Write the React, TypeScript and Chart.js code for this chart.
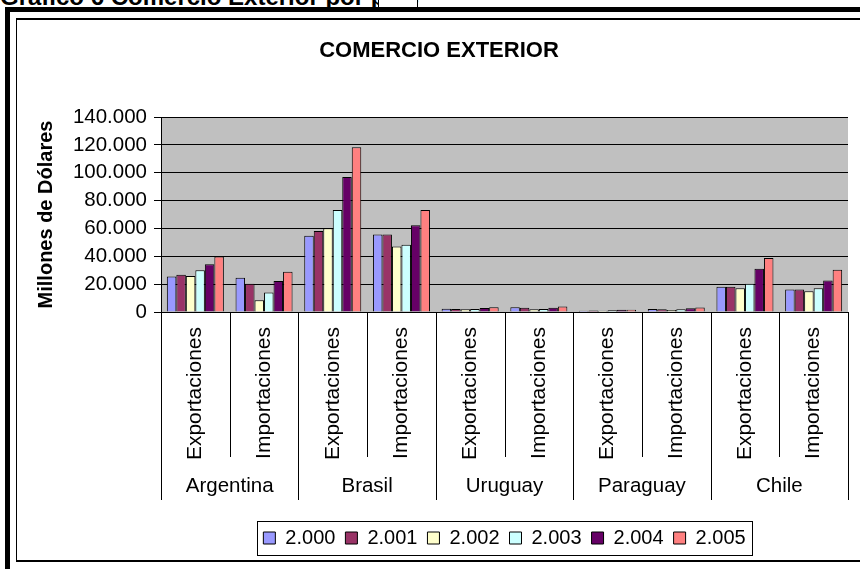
import React, { useEffect, useRef } from 'react';
import { Chart, registerables } from 'chart.js';

Chart.register(...registerables);

const FONT = "'Liberation Sans', Arial, Helvetica, sans-serif";

const heading = 'Gráfico 6 Comercio Exterior por país';
const chartTitle = 'COMERCIO EXTERIOR';
const yAxisTitle = 'Millones de Dólares';

const countries = ['Argentina', 'Brasil', 'Uruguay', 'Paraguay', 'Chile'];
const flows = ['Exportaciones', 'Importaciones'];
const yearLabels = ['2.000', '2.001', '2.002', '2.003', '2.004', '2.005'];
const yearColors = ['#9999FF', '#993366', '#FFFFCC', '#CCFFFF', '#660066', '#FF8080'];

// order: Arg Exp, Arg Imp, Bra Exp, Bra Imp, Uru Exp, Uru Imp, Par Exp, Par Imp, Chi Exp, Chi Imp
const values2000 = [25500, 24600, 54700, 55700, 2300, 3500, 900, 2200, 18100, 16100];
const values2001 = [26700, 20200, 58100, 55700, 2100, 3100, 1000, 2000, 18100, 16100];
const values2002 = [25800, 8400, 60200, 47000, 1900, 1900, 950, 1500, 17100, 14900];
const values2003 = [29900, 14000, 73200, 48200, 2200, 2200, 1200, 1900, 20200, 17100];
const values2004 = [34200, 22200, 96900, 62200, 2900, 3100, 1600, 2700, 31100, 22700];
const values2005 = [39800, 28900, 118300, 73200, 3400, 3900, 1700, 3200, 38800, 30400];

const yMin = 0;
const yMax = 140000;
const yStep = 20000;

const seriesValues = [values2000, values2001, values2002, values2003, values2004, values2005];
const categoryLabels = countries.flatMap(() => flows);

const fmt = (v: number) => String(Math.round(v)).replace(/\B(?=(\d{3})+(?!\d))/g, '.');

const plotBackground = {
  id: 'plotBackground',
  beforeDraw(chart: any) {
    const { ctx, chartArea } = chart;
    ctx.save();
    ctx.fillStyle = '#C0C0C0';
    ctx.fillRect(chartArea.left, chartArea.top, chartArea.right - chartArea.left, chartArea.bottom - chartArea.top);
    ctx.restore();
  },
};

const groupAxis = {
  id: 'groupAxis',
  afterDraw(chart: any) {
    const { ctx, chartArea } = chart;
    const xs = chart.scales.x;
    const n = categoryLabels.length;
    ctx.save();
    ctx.strokeStyle = '#000';
    ctx.lineWidth = 1;
    for (let j = 0; j <= n; j++) {
      let x;
      if (j === 0) x = chartArea.left;
      else if (j === n) x = chartArea.right;
      else x = (xs.getPixelForValue(j - 1) + xs.getPixelForValue(j)) / 2;
      x = Math.round(x) + 0.5;
      const yEnd = j % 2 === 0 ? 500 : 457;
      ctx.beginPath();
      ctx.moveTo(x, chartArea.bottom);
      ctx.lineTo(x, yEnd);
      ctx.stroke();
    }
    ctx.fillStyle = '#000';
    ctx.font = `20.5px ${FONT}`;
    ctx.textAlign = 'center';
    ctx.textBaseline = 'middle';
    countries.forEach((c, i) => {
      const cx = (xs.getPixelForValue(2 * i) + xs.getPixelForValue(2 * i + 1)) / 2;
      ctx.fillText(c, cx, 486);
    });
    ctx.restore();
  },
};

const legendBox = {
  id: 'legendBox',
  afterDraw(chart: any) {
    const lg = chart.legend;
    if (!lg || !lg.legendHitBoxes || !lg.legendHitBoxes.length) return;
    const hb = lg.legendHitBoxes;
    const first = hb[0];
    const last = hb[hb.length - 1];
    const left = Math.round(first.left - 6) + 0.5;
    const right = Math.round(last.left + last.width + 6) + 0.5;
    const top = Math.round(first.top - 7) + 0.5;
    const bottom = Math.round(first.top + first.height + 7) + 0.5;
    const { ctx } = chart;
    ctx.save();
    ctx.strokeStyle = '#000';
    ctx.lineWidth = 1;
    ctx.strokeRect(left, top, right - left, bottom - top);
    ctx.restore();
  },
};

export default function App() {
  const canvasRef = useRef<HTMLCanvasElement | null>(null);

  useEffect(() => {
    document.body.style.margin = '0';
    const canvas = canvasRef.current;
    if (!canvas) return;
    Chart.defaults.font.family = FONT;
    Chart.defaults.color = '#000';
    const chart = new Chart(canvas, {
      type: 'bar',
      data: {
        labels: categoryLabels,
        datasets: yearLabels.map((y, i) => ({
          label: y,
          data: seriesValues[i],
          backgroundColor: yearColors[i],
          borderColor: '#000',
          borderWidth: 1,
          barPercentage: 1,
          categoryPercentage: 0.83,
        })),
      },
      options: {
        animation: false,
        responsive: false,
        devicePixelRatio: 1,
        layout: { padding: { left: 30, right: 12, top: 20, bottom: 11 } },
        plugins: {
          title: {
            display: true,
            text: chartTitle,
            color: '#000',
            font: { size: 22, weight: 'bold', family: FONT, lineHeight: 1.2 },
            padding: { top: 18, bottom: 52.6 },
          },
          legend: {
            position: 'bottom',
            fullSize: false,
            labels: {
              boxWidth: 12,
              boxHeight: 12,
              padding: 10,
              color: '#000',
              font: { size: 20, family: FONT },
            },
          },
          tooltip: { enabled: false },
        },
        scales: {
          x: {
            type: 'category',
            grid: { display: false, drawTicks: false },
            border: { display: false },
            ticks: {
              minRotation: 90,
              maxRotation: 90,
              autoSkip: false,
              padding: 15,
              color: '#000',
              font: { size: 21, family: FONT },
            },
            afterFit: (s: any) => {
              s.height = 206;
            },
          },
          y: {
            min: yMin,
            max: yMax,
            ticks: {
              stepSize: yStep,
              padding: 7,
              color: '#000',
              font: { size: 20.5, family: FONT },
              callback: (v: any) => fmt(Number(v)),
            },
            grid: { color: '#000', lineWidth: 1, tickLength: 7, tickColor: '#000' },
            border: { color: '#000', width: 1 },
            title: {
              display: true,
              text: yAxisTitle,
              color: '#000',
              font: { size: 20, weight: 'bold', family: FONT },
              padding: { top: 4, bottom: 0 },
            },
            afterFit: (s: any) => {
              s.width = 131;
            },
          },
        },
      } as any,
      plugins: [plotBackground, groupAxis, legendBox],
    });
    return () => chart.destroy();
  }, []);

  return (
    <div style={{ position: 'fixed', left: 0, top: 0, width: 860, height: 569, overflow: 'hidden', background: '#fff' }}>
      <div
        style={{
          position: 'absolute', left: 0, top: -15, whiteSpace: 'nowrap',
          font: `bold 24px/24px ${FONT}`, color: '#000',
        }}
      >
        {heading}
      </div>
      <div style={{ position: 'absolute', left: 378, top: -4, width: 38, height: 11, background: '#fff', border: '1px solid #000' }} />
      <div style={{ position: 'absolute', left: 5, top: 7, width: 855, height: 5, background: '#000' }} />
      <div style={{ position: 'absolute', left: 5, top: 7, width: 5, height: 562, background: '#000' }} />
      <div style={{ position: 'absolute', left: 16, top: 18, width: 844, height: 2, background: '#000' }} />
      <div style={{ position: 'absolute', left: 16, top: 18, width: 1, height: 544, background: '#000' }} />
      <div style={{ position: 'absolute', left: 16, top: 560, width: 844, height: 2, background: '#000' }} />
      <canvas ref={canvasRef} width={860} height={569} style={{ position: 'absolute', left: 0, top: 0, width: 860, height: 569 }} />
    </div>
  );
}
